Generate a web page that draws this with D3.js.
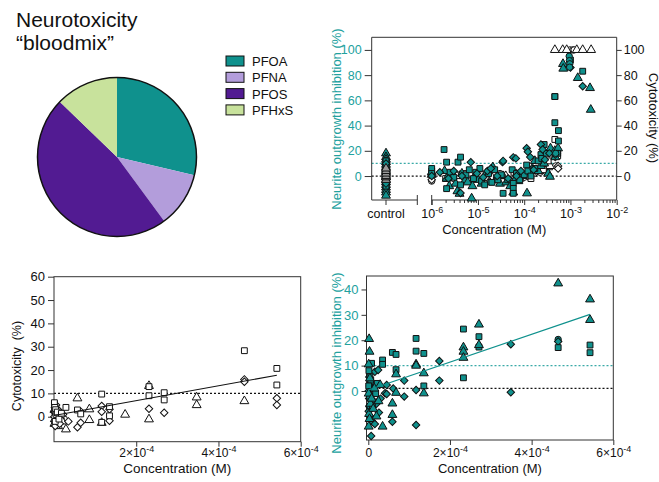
<!DOCTYPE html>
<html>
<head>
<meta charset="utf-8">
<script src="https://cdn.jsdelivr.net/npm/d3@7"></script>
<style>
  body { margin: 0; background: #fff; }
  svg text { font-family: Arial, "Liberation Sans", Helvetica, sans-serif; }
</style>
</head>
<body>
<svg id="chart" width="659" height="482"></svg>
<script>
// ---------- mixture composition ----------
const mixComponents = ["PFOA", "PFNA", "PFOS", "PFHxS"];
const mixShares = [28.7, 11.2, 47.3, 12.8];
const mixColors = ["#0f918d", "#b39ddb", "#521b92", "#c8e29c"];

// ---------- concentration-response, log scale (top right) ----------
// each point: [concentration (M), response (%)]
const controlNeuriteTri = [18, 15, 13, 11, 9, 7, 5, 3, 1, -1, -3, -5, -7, -9, -11, -13, -15.5];
const controlNeuriteSq = [12, 8, 4, 0, -4, -8];
const controlNeuriteDia = [10, 6, 2, -2, -6];
const controlCyto = [-3, -1, 0, 2, 4, 6];

const topNeuriteTri = [
  [1.0e-6, 3], [1.9e-6, 4], [2.1e-6, -2], [2.4e-6, -8], [2.8e-6, 1], [3.3e-6, -6], [3.6e-6, -12],
  [4.0e-6, -14], [4.5e-6, 2], [5.2e-6, -4], [6.0e-6, -5], [7.3e-6, -17.7], [7.6e-6, -8], [8.5e-6, -2],
  [1.0e-5, -3], [1.2e-5, -6], [1.5e-5, 2], [1.8e-5, -5], [2.1e-5, 7], [2.5e-5, -3], [3.0e-5, -6],
  [3.5e-5, 0], [4.1e-5, -5], [5.0e-5, -8], [5.8e-5, -13], [6.6e-5, -2], [7.5e-5, -4], [9.0e-5, 0],
  [1.15e-4, -13.7], [1.3e-4, 3], [1.5e-4, 6], [1.7e-4, 12], [2.0e-4, 4], [2.3e-4, 8], [2.7e-4, 10],
  [3.3e-4, 2], [3.6e-4, -0.5], [3.7e-4, 22], [4.6e-4, 20], [4.7e-4, 15], [5.4e-4, 22],
  [6.9e-4, 88.9], [7.0e-4, 85.2], [1.44e-3, 77.8], [2.65e-3, 69.8], [2.75e-3, 52.6]
];
const topNeuriteSq = [
  [1.0e-6, 6], [1.0e-6, 2], [1.85e-6, 21], [2.1e-6, 11], [2.1e-6, -10], [2.5e-6, 3], [3.0e-6, -1],
  [3.7e-6, 11], [4.2e-6, 15], [4.2e-6, -7], [5.5e-6, 1], [6.5e-6, 5], [8.0e-6, -2], [9.0e-6, 3],
  [1.1e-5, 6], [1.2e-5, -4], [1.4e-5, -7], [1.7e-5, 2], [2.0e-5, -5], [2.3e-5, 5], [2.7e-5, -3],
  [3.2e-5, 1], [3.5e-5, -13.7], [4.4e-5, -3], [5.5e-5, 5], [5.8e-5, -5.8], [5.8e-5, -9.8],
  [5.8e-5, -13.7], [6.8e-5, 2], [8.0e-5, -3], [1.0e-4, 1], [1.13e-4, 8.7], [1.2e-4, 4], [1.4e-4, 0],
  [1.7e-4, 6], [2.0e-4, 12], [2.3e-4, 17], [2.4e-4, 14], [2.7e-4, 25], [3.0e-4, 18],
  [4.6e-4, 63], [4.6e-4, 42.3], [5.5e-4, 36], [5.5e-4, 27.8], [5.3e-4, 18], [1.0e-3, 92], [1.84e-3, 83.1]
];
const topNeuriteDia = [
  [1.0e-6, 0], [1.5e-6, 3], [2.3e-6, -2], [3.0e-6, 4], [4.2e-6, -13.5], [4.5e-6, 0], [7.0e-6, 11],
  [9.5e-6, 2], [1.3e-5, -1], [1.6e-5, 4], [1.9e-5, 6], [2.6e-5, 0], [3.4e-5, 11], [3.5e-5, 12],
  [4.5e-5, -2], [5.8e-5, 14.8], [6.6e-5, 14], [6.8e-5, 0], [8.5e-5, 4], [1.13e-4, 22], [1.2e-4, 19.3],
  [1.35e-4, 15], [1.6e-4, 5], [2.3e-4, 25], [2.5e-4, 21], [2.8e-4, 13], [3.5e-4, 18], [4.7e-4, 17],
  [1.0e-3, 86], [1.84e-3, 71.2]
];
const topNeuriteCirc = [[9.4e-4, 95], [9.5e-4, 91.5], [9.7e-4, 89], [9.6e-4, 86.3], [4.8e-4, 18]];

const topCytoTri = [
  [1.0e-6, 1], [2.2e-6, -1], [3.5e-6, 0], [6.0e-6, -3], [1.1e-5, -2], [2.0e-5, -1], [4.0e-5, 0],
  [8.0e-5, -2], [1.5e-4, 2], [2.5e-4, 6], [3.3e-4, 7], [3.6e-4, 8],
  [4.6e-4, 100], [6.8e-4, 100], [8.3e-4, 100], [1.37e-3, 100], [1.84e-3, 100], [2.8e-3, 100]
];
const topCytoCirc = [
  [9.8e-4, 100], [1.13e-3, 100], [1.2e-3, 100], [1.0e-6, -4], [3.0e-6, -2], [9.0e-6, 1],
  [3.0e-5, 2], [1.0e-4, -1], [2.2e-4, 3], [4.8e-4, 8]
];
const topCytoSq = [
  [4.6e-4, 63], [4.6e-4, 29], [5.3e-4, 20], [5.3e-4, 16], [1.0e-6, 4], [2.0e-6, -2], [5.0e-6, 2],
  [1.2e-5, 1], [2.5e-5, -3], [6.0e-5, 3], [1.4e-4, -2], [2.6e-4, 5], [3.3e-4, 12]
];
const topCytoDia = [
  [5.4e-4, 8], [5.4e-4, 6], [4.7e-4, 15], [1.0e-6, -3], [4.0e-6, 1], [1.5e-5, -1], [5.0e-5, -3],
  [1.2e-4, 0], [1.8e-4, 3], [2.8e-4, 4]
];

// ---------- cytotoxicity, linear scale (bottom left) ----------
const cytoSq = [
  [1e-6, 5.5], [1e-6, 6], [2e-6, 4], [3e-6, -2], [4e-6, 3], [5e-6, 1], [8e-6, 2], [1.2e-5, -1],
  [1.8e-5, 1.5], [2.9e-5, 4.0], [5.7e-5, 2.9], [6.5e-5, 1.2], [1.16e-4, 9.7], [1.16e-4, -2.4],
  [1.35e-4, 4.3], [1.35e-4, 0.4], [2.31e-4, 12.9], [2.31e-4, 9.0], [2.68e-4, 10.3], [2.68e-4, 7.2],
  [4.63e-4, 28.3], [5.42e-4, 20.7], [5.42e-4, 13.6]
];
const cytoTri = [
  [1e-6, 3], [1e-6, -3], [2e-6, -1], [4e-6, -3], [6e-6, 1], [8e-6, -2], [1e-5, -4], [1.5e-5, 0],
  [2.0e-5, -2], [2.9e-5, -5.4], [5.7e-5, 7.9], [8.6e-5, 3.2], [8.6e-5, -1.4], [1.16e-4, -2.6],
  [1.73e-4, 0.9], [2.31e-4, 13.2], [2.31e-4, -1.1], [3.47e-4, 8.3], [3.47e-4, 5.0], [4.63e-4, 6.7]
];
const cytoDia = [
  [1e-6, 0], [1e-6, 2], [2e-6, 2], [2e-6, -2], [3e-6, -4], [3e-6, 4], [5e-6, 5], [7e-6, -2], [1e-5, 3],
  [1.4e-5, -3], [2.2e-5, 1], [3.5e-5, -2], [5.7e-5, -4.5], [6.5e-5, -2.6], [6.5e-5, 2.2],
  [1.16e-4, 4.6], [1.16e-4, 2.1], [1.35e-4, 3.2], [1.35e-4, -1.7], [2.31e-4, 3.4], [2.68e-4, 1.7],
  [4.63e-4, 16.0], [4.63e-4, 15.0], [5.42e-4, 7.9], [5.42e-4, 5.0]
];
const cytoCirc = [[1e-6, 4], [2e-6, -3], [3e-6, 1], [5e-6, -2], [6e-6, -1], [1e-5, 2], [2e-5, 0], [2.5e-5, -1]];
const cytoFitConc = [0, 5.42e-4];
const cytoFitValue = [0.5, 17.8];

// ---------- neurite outgrowth inhibition, linear scale (bottom right) ----------
const neuriteTri = [
  [2e-6, 20.5], [3e-6, 15.5], [1e-6, 10.5], [4e-6, 5], [1e-6, -1], [5e-6, -5], [2e-6, -9], [1e-6, -14],
  [3e-6, -11], [8e-6, -3], [1.2e-5, -7], [1.5e-5, 1], [2.0e-5, -10], [2.9e-5, 2.4], [3.5e-5, -14],
  [2.5e-5, -4], [5.9e-5, -4.9], [5.9e-5, -9.4], [6.8e-5, 6.6], [6.8e-5, -0.7], [1.17e-4, 10.5],
  [1.17e-4, 10.0], [1.36e-4, 7.0], [1.36e-4, -0.9], [2.33e-4, 17.2], [2.33e-4, 15.5], [2.33e-4, 13.1],
  [2.71e-4, 26.2], [2.71e-4, 18.1], [4.65e-4, 42.4], [5.43e-4, 36.1], [5.43e-4, 28.0]
];
const neuriteSq = [
  [8e-6, 10.9], [4e-6, 5.6], [6e-6, 4.3], [1e-6, 2], [1.5e-6, 8], [3e-6, -2], [1.0e-5, -6], [1.8e-5, -1],
  [2.2e-5, 3], [3.5e-5, 12.2], [3.5e-5, 10.5], [5.9e-5, 15.2], [6.8e-5, 14.4], [6.8e-5, 8.4],
  [1.17e-4, 20.7], [1.17e-4, 15.7], [1.36e-4, 14.8], [1.36e-4, 2.0], [2.33e-4, 24.4], [2.33e-4, 5.2],
  [2.71e-4, 21.4], [2.71e-4, 17.3], [4.65e-4, 17.1], [5.43e-4, 18.1], [5.43e-4, 15.1]
];
const neuriteDia = [
  [1e-6, 0], [1e-6, -8], [2e-6, -3], [2.5e-6, 5.5], [3e-6, -6], [4e-6, 2], [5e-6, -10], [7e-6, -17.7],
  [8e-6, -2], [1.0e-5, -12], [1.2e-5, 1], [1.6e-5, 7.6], [1.6e-5, -13], [2.0e-5, -5], [2.4e-5, 8.3],
  [2.6e-5, -8.5], [3.0e-5, -3], [4.1e-5, -0.9], [4.5e-5, 2.4], [4.5e-5, -1.2], [5.9e-5, -12.1],
  [6.1e-5, 1.0], [8.8e-5, 4.1], [8.8e-5, -2.2], [1.17e-4, 0.4], [1.17e-4, -13.4], [1.74e-4, 11.8],
  [1.74e-4, 4.1], [3.49e-4, 18.4], [3.49e-4, -0.5], [4.65e-4, 19.5]
];
const neuriteCirc = [[4.65e-4, 20.3], [5e-6, 3], [1.2e-5, -4], [2e-6, -6]];
const neuriteFitConc = [0, 5.43e-4];
const neuriteFitValue = [0.4, 30.2];

// ---------- tick values ----------
const responseTicksTop = [0, 20, 40, 60, 80, 100];
const cytoTicks = [0, 10, 20, 30, 40, 50, 60];
const neuriteTicks = [0, 10, 20, 30, 40];
const decadeTicks = [1e-6, 1e-5, 1e-4, 1e-3, 1e-2];
const linTicksBL = [2e-4, 4e-4, 6e-4];
const linTicksBR = [0, 2e-4, 4e-4, 6e-4];

// ---------- styling ----------
const TEAL = "#0f918d";
const TEAL_TEXT = "#22a19e";
const TEAL_DOT = "#3aaaa7";
const AXIS = "#333";
const svg = d3.select("#chart");

function symbolPath(shape) {
  if (shape === "square") return d3.symbol().type(d3.symbolSquare).size(34)();
  if (shape === "triangle") return d3.symbol().type(d3.symbolTriangle).size(34)();
  if (shape === "diamond") return d3.symbol().type(d3.symbolSquare).size(28)();
  return d3.symbol().type(d3.symbolCircle).size(32)();
}
function drawPoints(g, pts, x, y, shape, fill) {
  g.append("g").selectAll("path").data(pts).join("path")
    .attr("d", symbolPath(shape))
    .attr("transform", d => `translate(${x(d[0])},${y(d[1])})` + (shape === "diamond" ? " rotate(45)" : ""))
    .attr("fill", fill)
    .attr("stroke", "#111")
    .attr("stroke-width", 1);
}
function styleAxis(g, size, color) {
  g.select(".domain").remove();
  g.selectAll(".tick line").attr("stroke", AXIS).attr("stroke-width", 1);
  g.selectAll(".tick text").attr("font-size", size + "px").attr("fill", color || "#111");
}
function powerLabels(g, prefix) {
  g.selectAll(".tick text").each(function (d) {
    const t = d3.select(this);
    t.text("");
    if (d === 0) { t.text("0"); return; }
    let mant = "", exp;
    if (prefix) {
      exp = Math.floor(Math.log10(d) + 1e-9);
      mant = Math.round(d / Math.pow(10, exp)) + "×";
    } else {
      exp = Math.round(Math.log10(d));
    }
    t.append("tspan").text(mant + "10");
    t.append("tspan").attr("dy", "-5").attr("font-size", "9px").text(String(exp));
  });
}
function hline(g, x1, x2, y, color, dash, w) {
  g.append("line").attr("x1", x1).attr("x2", x2).attr("y1", y).attr("y2", y)
    .attr("stroke", color).attr("stroke-width", w || 1).attr("stroke-dasharray", dash || null);
}
function vline(g, x, y1, y2, color, w) {
  g.append("line").attr("x1", x).attr("x2", x).attr("y1", y1).attr("y2", y2)
    .attr("stroke", color).attr("stroke-width", w || 1);
}
function rotatedLabel(x, y, angle, text, size, color) {
  svg.append("text")
    .attr("transform", `translate(${x},${y}) rotate(${angle})`)
    .attr("text-anchor", "middle")
    .attr("font-size", size + "px")
    .attr("fill", color)
    .style("white-space", "pre")
    .text(text);
}

// ================= title, pie and legend =================
svg.append("text").attr("x", 16).attr("y", 27).attr("font-size", "21px").attr("fill", "#111").text("Neurotoxicity");
svg.append("text").attr("x", 16).attr("y", 50).attr("font-size", "21px").attr("fill", "#111").text("“bloodmix”");

const pie = d3.pie().sort(null).value(d => d)(mixShares);
const arc = d3.arc().innerRadius(0).outerRadius(79.5);
const pieG = svg.append("g").attr("transform", "translate(117,157)");
pieG.selectAll("path").data(pie).join("path")
  .attr("d", arc)
  .attr("fill", (d, i) => mixColors[i]);
pieG.append("circle").attr("r", 79.5).attr("fill", "none").attr("stroke", "#111").attr("stroke-width", 1.5);

const legend = svg.append("g");
mixComponents.forEach((name, i) => {
  const y0 = 56 + i * 16.3;
  legend.append("rect").attr("x", 226).attr("y", y0).attr("width", 18).attr("height", 10)
    .attr("fill", mixColors[i]).attr("stroke", "#111").attr("stroke-width", 1);
  legend.append("text").attr("x", 252).attr("y", y0 + 10).attr("font-size", "13px").attr("fill", "#111").text(name);
});

// ================= top right: log concentration =================
{
  const L = 371.7, R = 616.7, T = 37.3, B = 200;
  const x = d3.scaleLog().domain([1e-6, 1e-2]).range([431.7, R]);
  const xCtrl = d3.scalePoint().domain(["control"]).range([386, 386]);
  const y = d3.scaleLinear().domain([-19, 110]).range([B, T]);
  const g = svg.append("g");

  // reference lines
  hline(g, L, R, y(10), TEAL_DOT, "2,2", 1.3);
  hline(g, L, R, y(0), "#111", "2,2", 1.2);

  // frame
  vline(g, L, T, B, AXIS);
  vline(g, R, T, B, AXIS);
  hline(g, L, R, T, AXIS);

  // left axis (neurite)
  const ga = g.append("g").attr("transform", `translate(${L},0)`)
    .call(d3.axisLeft(y).tickValues(responseTicksTop).tickSize(7).tickPadding(3));
  styleAxis(ga, 12.5, TEAL_TEXT);
  // right axis (cytotoxicity)
  const gr = g.append("g").attr("transform", `translate(${R},0)`)
    .call(d3.axisRight(y).tickValues(responseTicksTop).tickSize(5).tickPadding(2));
  styleAxis(gr, 12.5, "#111");

  // bottom axis: control segment with break
  hline(g, L, 417.3, B, AXIS);
  vline(g, xCtrl("control"), B, B + 5, AXIS);
  vline(g, 417.3, B - 5, B + 5, AXIS);
  vline(g, 431.7, B - 5, B + 5, AXIS);
  g.append("text").attr("x", xCtrl("control")).attr("y", 218).attr("text-anchor", "middle")
    .attr("font-size", "12.5px").attr("fill", "#111").text("control");
  hline(g, 431.7, R, B, AXIS);
  const minor = x.ticks().filter(v => !decadeTicks.some(dv => Math.abs(v / dv - 1) < 1e-6));
  const gm = g.append("g").attr("transform", `translate(0,${B})`)
    .call(d3.axisBottom(x).tickValues(minor).tickSize(3).tickFormat(""));
  styleAxis(gm, 12);
  const gx = g.append("g").attr("transform", `translate(0,${B})`)
    .call(d3.axisBottom(x).tickValues(decadeTicks).tickSize(5).tickPadding(4.5));
  styleAxis(gx, 12.5);
  powerLabels(gx, false);

  // data
  const ctrl = v => ["control", v];
  const xc = d => xCtrl(d);
  drawPoints(g, controlNeuriteTri.map(ctrl), xc, y, "triangle", TEAL);
  drawPoints(g, controlNeuriteSq.map(ctrl), xc, y, "square", TEAL);
  drawPoints(g, controlNeuriteDia.map(ctrl), xc, y, "diamond", TEAL);
  drawPoints(g, controlCyto.map(ctrl), xc, y, "triangle", "#9a9a9a");

  drawPoints(g, topCytoCirc, x, y, "circle", "#fff");
  drawPoints(g, topCytoDia, x, y, "diamond", "#fff");
  drawPoints(g, topCytoTri, x, y, "triangle", "#fff");
  drawPoints(g, topCytoSq, x, y, "square", "#fff");
  drawPoints(g, topNeuriteTri, x, y, "triangle", TEAL);
  drawPoints(g, topNeuriteSq, x, y, "square", TEAL);
  drawPoints(g, topNeuriteDia, x, y, "diamond", TEAL);
  drawPoints(g, topNeuriteCirc, x, y, "circle", TEAL);

  rotatedLabel(340.5, 119, -90, "Neurite outgrowth inhibition (%)", 13, TEAL_TEXT);
  rotatedLabel(648.5, 118, 90, "Cytotoxicity (%)", 13, "#111");
  g.append("text").attr("x", (L + R) / 2).attr("y", 234).attr("text-anchor", "middle")
    .attr("font-size", "13px").attr("fill", "#111").text("Concentration (M)");
}

// ================= bottom left: cytotoxicity, linear =================
{
  const L = 54, R = 300.7, T = 276.7, B = 441.7;
  const x = d3.scaleLinear().domain([0, 6e-4]).range([L, R]);
  const y = d3.scaleLinear().domain([-10.7, 60]).range([B, T]);
  const g = svg.append("g");

  hline(g, L, R, y(10), "#111", "2,2", 1.2);
  g.append("rect").attr("x", L).attr("y", T).attr("width", R - L).attr("height", B - T)
    .attr("fill", "none").attr("stroke", AXIS).attr("stroke-width", 1);

  const ga = g.append("g").attr("transform", `translate(${L},0)`)
    .call(d3.axisLeft(y).tickValues(cytoTicks).tickSize(6).tickPadding(3));
  styleAxis(ga, 13);
  const gx = g.append("g").attr("transform", `translate(0,${B})`)
    .call(d3.axisBottom(x).tickValues(linTicksBL).tickSize(5).tickPadding(2));
  styleAxis(gx, 12);
  powerLabels(gx, true);

  drawPoints(g, cytoCirc, x, y, "circle", "#fff");
  drawPoints(g, cytoTri, x, y, "triangle", "#fff");
  drawPoints(g, cytoDia, x, y, "diamond", "#fff");
  drawPoints(g, cytoSq, x, y, "square", "#fff");

  const fit = d3.line().x(d => x(d[0])).y(d => y(d[1]));
  g.append("path").datum(cytoFitConc.map((c, i) => [c, cytoFitValue[i]]))
    .attr("d", fit).attr("fill", "none").attr("stroke", "#111").attr("stroke-width", 1.1);

  rotatedLabel(20.5, 366, -90, "Cytotoxicity  (%)", 12.5, "#111");
  g.append("text").attr("x", (L + R) / 2).attr("y", 473).attr("text-anchor", "middle")
    .attr("font-size", "13.5px").attr("fill", "#111").text("Concentration (M)");
}

// ================= bottom right: neurite outgrowth, linear =================
{
  const L = 366.5, R = 613.3, T = 276, B = 440;
  const x = d3.scaleLinear().domain([0, 6e-4]).range([368.3, R]);
  const y = d3.scaleLinear().domain([-19.3, 45.3]).range([B, T]);
  const g = svg.append("g");

  hline(g, L, R, y(10), TEAL_DOT, "2,2", 1.3);
  hline(g, L, R, y(1), "#111", "2,2", 1.2);
  g.append("rect").attr("x", L).attr("y", T).attr("width", R - L).attr("height", B - T)
    .attr("fill", "none").attr("stroke", AXIS).attr("stroke-width", 1);

  const ga = g.append("g").attr("transform", `translate(${L},0)`)
    .call(d3.axisLeft(y).tickValues(neuriteTicks).tickSize(5).tickPadding(3));
  styleAxis(ga, 13, TEAL_TEXT);
  const gx = g.append("g").attr("transform", `translate(0,${B})`)
    .call(d3.axisBottom(x).tickValues(linTicksBR).tickSize(5).tickPadding(3));
  styleAxis(gx, 12);
  powerLabels(gx, true);

  drawPoints(g, neuriteCirc, x, y, "circle", TEAL);
  drawPoints(g, neuriteDia, x, y, "diamond", TEAL);
  drawPoints(g, neuriteSq, x, y, "square", TEAL);
  drawPoints(g, neuriteTri, x, y, "triangle", TEAL);

  const fit = d3.line().x(d => x(d[0])).y(d => y(d[1]));
  g.append("path").datum(neuriteFitConc.map((c, i) => [c, neuriteFitValue[i]]))
    .attr("d", fit).attr("fill", "none").attr("stroke", TEAL).attr("stroke-width", 1.2);

  rotatedLabel(340.5, 363, -90, "Neurite outgrowth inhibition (%)", 13, TEAL_TEXT);
  g.append("text").attr("x", (L + R) / 2).attr("y", 473).attr("text-anchor", "middle")
    .attr("font-size", "13px").attr("fill", "#111").text("Concentration (M)");
}
</script>
</body>
</html>
